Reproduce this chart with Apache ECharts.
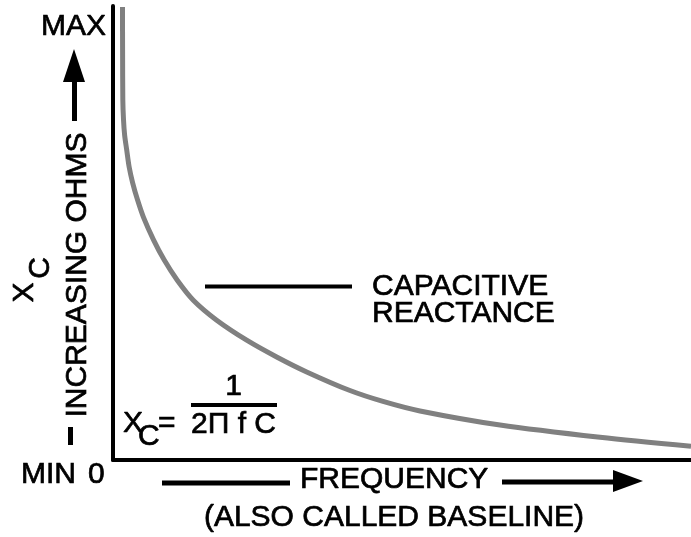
<!DOCTYPE html>
<html>
<head>
<meta charset="utf-8">
<script src="https://cdn.jsdelivr.net/npm/echarts@6/dist/echarts.min.js"></script>
<style>
  html, body { margin: 0; padding: 0; background: #fff; }
  #chart { width: 691px; height: 537px; }
</style>
</head>
<body>
<div id="chart"></div>
<script>
// ---- data (arbitrary units 0..100) ----
const frequency = [1.64, 1.66, 1.70, 1.82, 2.01, 2.37, 2.80, 3.41, 4.24, 5.26, 7.01, 8.84, 11.12, 13.89, 17.94, 23.13, 28.32, 33.51, 41.00, 46.71, 53.11, 66.96, 84.26, 100];
const reactance = [99.8, 90.3, 79.3, 74.9, 71.6, 68.3, 64.5, 61.0, 57.3, 53.5, 48.5, 44.1, 39.6, 35.2, 30.8, 26.4, 22.7, 19.4, 15.3, 12.9, 10.8, 7.7, 5.0, 3.0];

// ---- texts ----
const yTickLabels = ['MAX', 'MIN'];
const xZeroLabel = '0';
const yAxisTitle = 'INCREASING OHMS';
const yAxisSymbol = ['X', 'C'];
const xAxisTitle = 'FREQUENCY';
const xAxisSubtitle = '(ALSO CALLED BASELINE)';
const curveLabel = ['CAPACITIVE', 'REACTANCE'];
const formulaParts = ['X', 'C', '=', '1', '2\u03A0 f C'];

const FONT = '30px "Liberation Sans", Arial, Helvetica, sans-serif';
const seriesData = frequency.map((f, i) => [f, reactance[i]]);

function txt(x, y, text, align, extra) {
  return Object.assign({
    type: 'text', x: x, y: y, z: 10,
    style: {
      text: text, fill: '#000', font: FONT,
      stroke: '#000', lineWidth: 0.7,
      align: align || 'left', verticalAlign: 'middle',
      textAlign: align || 'left', textVerticalAlign: 'middle'
    }
  }, extra || {});
}
function seg(x1, y1, x2, y2, w) {
  return { type: 'line', z: 10, shape: { x1, y1, x2, y2 }, style: { stroke: '#000', lineWidth: w } };
}
function tri(points) {
  return { type: 'polygon', z: 10, shape: { points: points }, style: { fill: '#000' } };
}

const chart = echarts.init(document.getElementById('chart'), null, { renderer: 'canvas' });
chart.setOption({
  backgroundColor: '#fff',
  animation: false,
  grid: { left: 113, right: 0, top: 6, bottom: 77, containLabel: false },
  xAxis: {
    type: 'value', min: 0, max: 100,
    axisLine: { show: true, lineStyle: { color: '#000', width: 4 } },
    axisTick: { show: false }, axisLabel: { show: false }, splitLine: { show: false }
  },
  yAxis: {
    type: 'value', min: 0, max: 100,
    axisLine: { show: true, lineStyle: { color: '#000', width: 4 } },
    axisTick: { show: false }, axisLabel: { show: false }, splitLine: { show: false }
  },
  series: [{
    type: 'line',
    data: seriesData,
    smooth: 0.3,
    showSymbol: false,
    lineStyle: { color: '#808080', width: 5 },
    clip: true
  }],
  graphic: [
    // y axis tick labels
    txt(41, 27, yTickLabels[0], 'left'),
    txt(21, 475, yTickLabels[1], 'left'),
    txt(88, 475, xZeroLabel, 'left'),
    // up arrow above y-axis title
    seg(74.5, 80, 74.5, 121, 5),
    tri([[74, 49], [63, 82], [85, 82]]),
    // rotated y-axis title
    txt(77.5, 275, yAxisTitle, 'center', { rotation: Math.PI / 2 }),
    seg(70.5, 427, 70.5, 445, 5),
    // X_C rotated
    txt(25, 292.5, yAxisSymbol[0], 'center', { rotation: Math.PI / 2 }),
    txt(41, 268, yAxisSymbol[1], 'center', { rotation: Math.PI / 2 }),
    // curve label
    seg(205, 286.5, 352, 286.5, 4),
    txt(372, 287, curveLabel[0], 'left'),
    txt(372, 314, curveLabel[1], 'left'),
    // formula
    txt(123, 424, formulaParts[0], 'left'),
    txt(138, 437, formulaParts[1], 'left'),
    txt(158, 424, formulaParts[2], 'left'),
    txt(233.5, 387, formulaParts[3], 'center'),
    seg(191, 405, 277, 405, 4),
    txt(191, 425, formulaParts[4], 'left'),
    // x axis title with arrows
    seg(162, 483, 290, 483, 5),
    txt(300, 480, xAxisTitle, 'left'),
    seg(502, 482, 615, 482, 5),
    tri([[643, 481], [613, 470], [613, 492]]),
    txt(394, 518, xAxisSubtitle, 'center')
  ]
});
</script>
</body>
</html>
